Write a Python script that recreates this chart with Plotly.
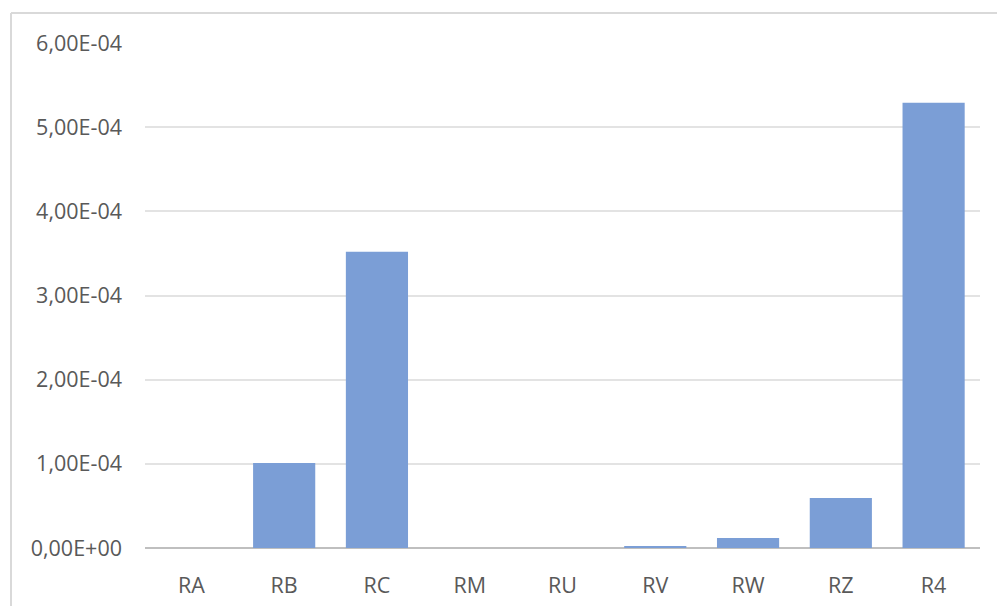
import plotly.graph_objects as go

categories = ["RA", "RB", "RC", "RM", "RU", "RV", "RW", "RZ", "R4"]
values = [0.0, 1.01e-4, 3.52e-4, 0.0, 0.0, 0.02e-4, 0.12e-4, 0.595e-4, 5.29e-4]
ytick_vals = [0, 1e-4, 2e-4, 3e-4, 4e-4, 5e-4, 6e-4]
ytick_text = ["0,00E+00", "1,00E-04", "2,00E-04", "3,00E-04", "4,00E-04", "5,00E-04", "6,00E-04"]

W, H = 997, 606
ml, mr, mt, mb = 145, 17, 43, 58
pw, ph = W - ml - mr, H - mt - mb

fig = go.Figure(go.Bar(
    x=categories, y=values,
    marker=dict(color="#7B9ED6", line=dict(width=0)),
))

def px2paper_x(px):
    return (px - ml) / pw

def px2paper_y(py):
    return (H - mb - py) / ph

fig.update_layout(
    width=W, height=H,
    margin=dict(l=ml, r=mr, t=mt, b=mb, autoexpand=False),
    paper_bgcolor="white", plot_bgcolor="white",
    bargap=0.33,
    showlegend=False,
    font=dict(family="Open Sans", size=21.5, color="#595959"),
    xaxis=dict(
        showgrid=False, zeroline=False, showline=False, automargin=False,
        ticks="", ticklabelstandoff=22,
    ),
    yaxis=dict(
        range=[0, 6e-4], tickmode="array", tickvals=ytick_vals, ticktext=ytick_text,
        showgrid=True, gridcolor="#E3E3E3", gridwidth=1.5, automargin=False,
        zeroline=True, zerolinecolor="#BFBFBF", zerolinewidth=1.5,
        showline=False, ticks="", ticklabelstandoff=22,
    ),
    shapes=[
        dict(type="line", xref="paper", yref="paper",
             x0=px2paper_x(11), x1=px2paper_x(1010), y0=px2paper_y(13), y1=px2paper_y(13),
             line=dict(color="#D9D9D9", width=2)),
        dict(type="line", xref="paper", yref="paper",
             x0=px2paper_x(11), x1=px2paper_x(11), y0=px2paper_y(13), y1=px2paper_y(620),
             line=dict(color="#D9D9D9", width=2)),
    ],
)

fig.write_html("out.html")
